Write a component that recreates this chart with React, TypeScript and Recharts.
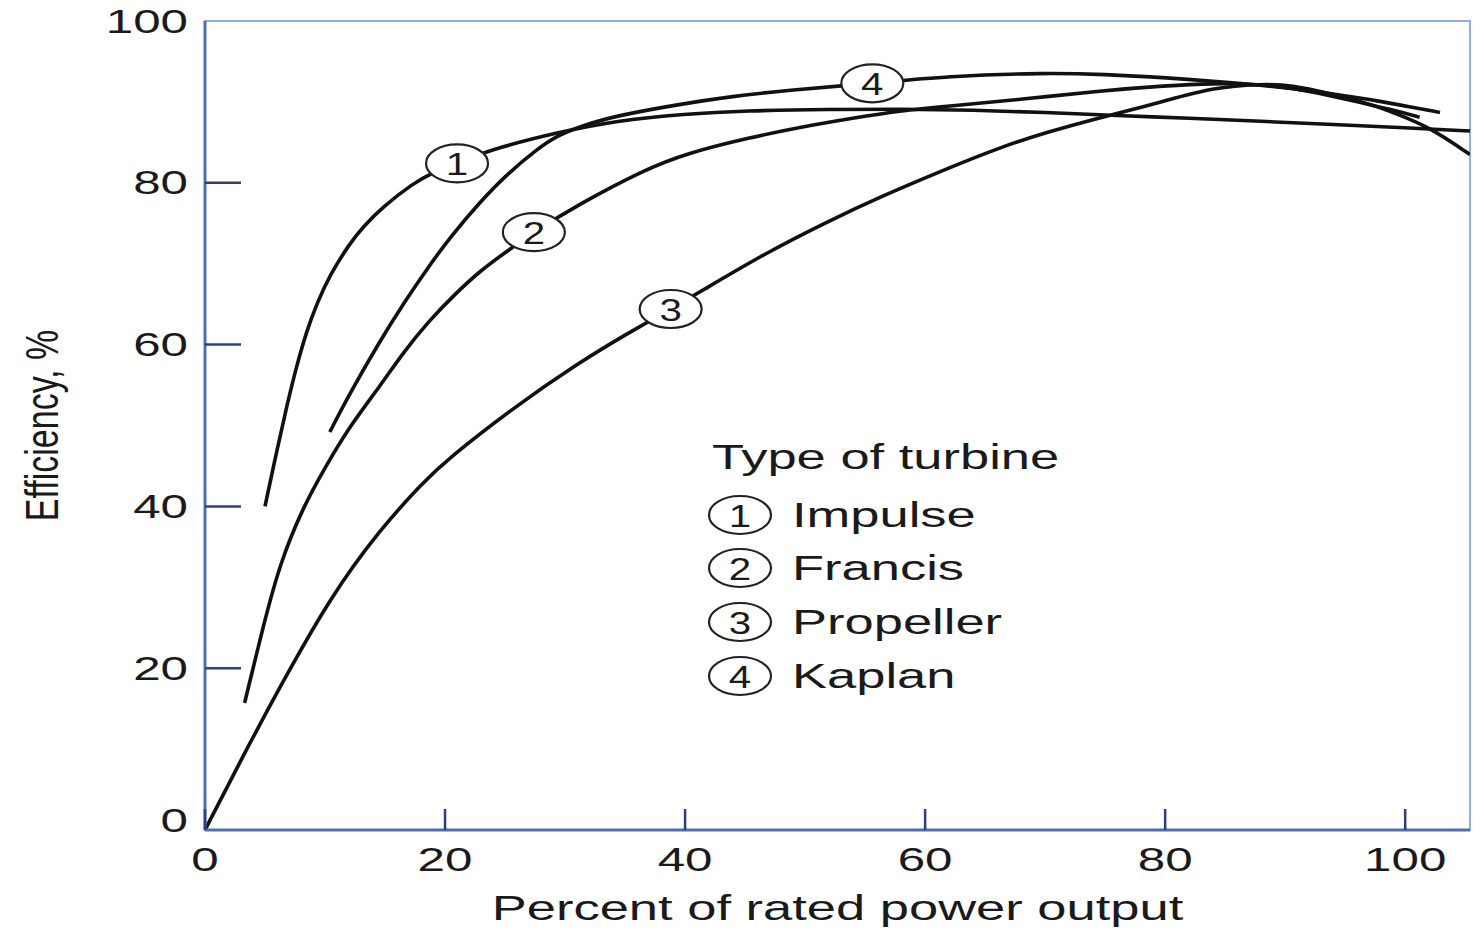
import React from 'react';
import { LineChart, Line, XAxis, YAxis, ReferenceArea, ReferenceDot, Label } from 'recharts';

// ---------- data ----------
const xTicks = [0, 20, 40, 60, 80, 100];
const yTicks = [0, 20, 40, 60, 80, 100];
const seriesNames = ['Impulse', 'Francis', 'Propeller', 'Kaplan'];
const seriesNumbers = ['1', '2', '3', '4'];

const impulseX = [5, 6, 6.8, 7.6, 8.5, 9.3, 10.4, 12.1, 13.2, 14.8, 17.3, 19, 21, 24.5, 29.3, 34.3, 40, 45, 52, 58, 64, 70, 76, 82, 88, 94, 100, 105.4];
const impulseY = [40, 47, 52.3, 57.2, 61.8, 65, 68.6, 72.6, 74.6, 77, 79.9, 81.3, 82.5, 84.4, 86.2, 87.7, 88.5, 88.9, 89.1, 89.1, 89, 88.7, 88.3, 88, 87.6, 87.2, 86.8, 86.4];

const francisX = [3.3, 4.9, 6.25, 8.2, 10, 12, 14.6, 16.5, 18.7, 20.8, 22.9, 25.4, 27.4, 31.2, 36.6, 40, 45.4, 50, 54, 57.8, 62, 68, 74.8, 80, 84, 88, 92, 96, 99, 101.2];
const francisY = [15.7, 25.5, 33, 40, 44.8, 49.8, 54.9, 59, 63, 66.2, 69.1, 71.8, 73.9, 77.4, 81.6, 83.6, 85.6, 87, 88, 88.9, 89.5, 90.3, 91.4, 92, 92.3, 92.2, 91.4, 90, 89, 88.1];

const propellerX = [0, 3.5, 6.25, 10.4, 14.6, 18.2, 20.1, 25.7, 31.2, 35, 38.8, 41, 46.8, 52, 56.3, 61.9, 66.1, 70, 74.4, 77.2, 79.9, 84.1, 88, 90.5, 93.8, 97, 99.3, 102, 105.4];
const propellerY = [0, 10.1, 17.7, 28.7, 37.2, 43, 45.7, 52.2, 57.8, 61.2, 64.4, 66.3, 71.4, 75.3, 78.3, 81.8, 84.3, 86.2, 88, 89, 90.1, 91.8, 92.2, 92.1, 91, 89.8, 88.5, 86.9, 83.5];

const kaplanX = [10.4, 12, 14.6, 16.5, 18.7, 20.5, 22.9, 25.1, 27.8, 29.3, 31.5, 34.3, 39.5, 44, 48.3, 55.6, 61.9, 70, 75, 80, 85.5, 90, 94, 97, 99.3, 102.9];
const kaplanY = [49.2, 53.8, 60.5, 65, 69.8, 73.4, 77.6, 81, 84.3, 85.8, 87.1, 88.3, 89.7, 90.7, 91.4, 92.3, 93.2, 93.6, 93.4, 93, 92.4, 91.8, 91, 90.3, 89.7, 88.7];

const labelX = [21, 27.4, 38.8, 55.6];
const labelY = [82.4, 73.9, 64.4, 92.3];

const xTitle = 'Percent of rated power output';
const yTitle = 'Efficiency, %';
const legendTitle = 'Type of turbine';

// ---------- styling ----------
const FONT = '"Liberation Sans", Arial, Helvetica, sans-serif';
const SX = 1.45;
const TEXT = '#1a1a1a';
const AXIS = '#4f6fae';
const BORDER = '#8fb0dd';
const TICK = '#2d3f7c';
const LINE = '#111';

const toPoints = (xs: number[], ys: number[]) => xs.map((x, i) => ({ x, y: ys[i] }));
const seriesData = [
  toPoints(impulseX, impulseY),
  toPoints(francisX, francisY),
  toPoints(propellerX, propellerY),
  toPoints(kaplanX, kaplanY),
];

function SText({ x, y, children, size = 34, anchor = 'start', sx = SX, rotate = 0 }: any) {
  return (
    <g transform={`translate(${x},${y}) scale(${sx},1) rotate(${rotate})`}>
      <text x={0} y={0} textAnchor={anchor} dominantBaseline="central" fontSize={size} fill={TEXT} fontFamily={FONT}>
        {children}
      </text>
    </g>
  );
}

function XTick(props: any) {
  const { x, y, payload } = props;
  return (
    <g>
      <line x1={x} y1={y} x2={x} y2={y - 21} stroke={TICK} strokeWidth={2.5} />
      <SText x={x} y={y + 29} anchor="middle">{payload.value}</SText>
    </g>
  );
}

function YTick(props: any) {
  const { x, y, payload } = props;
  const dy = payload.value === 0 ? -10 : 0;
  return (
    <g>
      {payload.value !== 100 && payload.value !== 0 && (
        <line x1={x} y1={y} x2={x + 36} y2={y} stroke={TICK} strokeWidth={2.5} />
      )}
      <SText x={x - 17} y={y + dy} anchor="end">{payload.value}</SText>
    </g>
  );
}

function Badge({ cx, cy, num }: any) {
  return (
    <g>
      <ellipse cx={cx} cy={cy} rx={31} ry={19} fill="#fff" stroke="#222" strokeWidth={2.2} />
      <SText x={cx} y={cy + 1} anchor="middle" size={31} sx={1.3}>{num}</SText>
    </g>
  );
}

export default function App() {
  const legendRows = [515, 568, 622, 676];
  return (
    <div style={{ position: 'absolute', left: 0, top: 0, width: 1474, height: 930, background: '#fff' }}>
      <LineChart width={1474} height={930} margin={{ top: 21, right: 4, bottom: 0, left: 105 }}>
        <ReferenceArea x1={0} x2={105.4} y1={0} y2={100} fill="none" stroke={BORDER} strokeWidth={2} />
        <XAxis
          type="number"
          dataKey="x"
          domain={[0, 105.4]}
          ticks={xTicks}
          allowDataOverflow
          height={100}
          tickSize={0}
          tickMargin={0}
          tickLine={false}
          axisLine={{ stroke: AXIS, strokeWidth: 3 }}
          tick={<XTick />}
        >
          <Label
            content={(p: any) => {
              const vb = p.viewBox;
              return <SText x={vb.x + vb.width / 2} y={908} anchor="middle" size={35} sx={1.5}>{xTitle}</SText>;
            }}
          />
        </XAxis>
        <YAxis
          type="number"
          domain={[0, 100]}
          ticks={yTicks}
          allowDataOverflow
          width={100}
          tickSize={0}
          tickMargin={0}
          tickLine={false}
          axisLine={{ stroke: AXIS, strokeWidth: 3 }}
          tick={<YTick />}
        >
          <Label
            content={(p: any) => {
              const vb = p.viewBox;
              return <SText x={42} y={vb.y + vb.height / 2} anchor="middle" size={34} sx={1.35} rotate={-90}>{yTitle}</SText>;
            }}
          />
        </YAxis>
        {seriesData.map((d, i) => (
          <Line
            key={seriesNames[i]}
            name={seriesNames[i]}
            data={d}
            dataKey="y"
            type="basis"
            stroke={LINE}
            strokeWidth={3.6}
            dot={false}
            activeDot={false}
            isAnimationActive={false}
          />
        ))}
        {labelX.map((lx, i) => (
          <ReferenceDot
            key={'b' + i}
            x={lx}
            y={labelY[i]}
            r={20}
            shape={(p: any) => <Badge cx={p.cx} cy={p.cy} num={seriesNumbers[i]} />}
          />
        ))}
      </LineChart>
      <svg width={1474} height={930} style={{ position: 'absolute', left: 0, top: 0, pointerEvents: 'none' }}>
        <SText x={712} y={457} size={35} sx={1.5}>{legendTitle}</SText>
        {seriesNames.map((n, i) => (
          <g key={n}>
            <Badge cx={740} cy={legendRows[i]} num={seriesNumbers[i]} />
            <SText x={792} y={legendRows[i]} size={35} sx={1.5}>{n}</SText>
          </g>
        ))}
      </svg>
    </div>
  );
}
